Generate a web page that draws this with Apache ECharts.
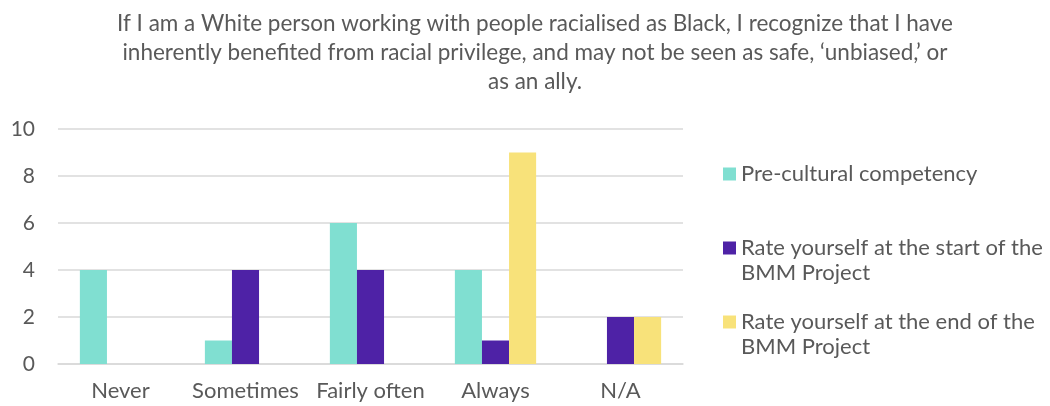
<!DOCTYPE html>
<html>
<head>
<meta charset="utf-8">
<script src="https://cdn.jsdelivr.net/npm/echarts@6/dist/echarts.min.js"></script>
<style>
  html, body { margin: 0; padding: 0; background: #fff; }
  #chart { width: 1050px; height: 406px; }
</style>
</head>
<body>
<div id="chart"></div>
<script>
// Survey responses per answer category
const categories = ['Never', 'Sometimes', 'Fairly often', 'Always', 'N/A'];
const preCultural = [4, 1, 6, 4, 0];
const startOfProject = [0, 4, 4, 1, 2];
const endOfProject = [0, 0, 0, 9, 2];
const yTicks = [0, 2, 4, 6, 8, 10];

const seriesNames = [
  'Pre-cultural competency',
  'Rate yourself at the start of the BMM Project',
  'Rate yourself at the end of the BMM Project'
];
// A blank leading line keeps the swatch level with the first text line
const legendLabels = [
  'Pre-cultural competency',
  ' \nRate yourself at the start of the\nBMM Project',
  ' \nRate yourself at the end of the\nBMM Project'
];
const colors = ['#80DFD1', '#4E22A6', '#F8E27A'];
const textColor = '#595959';
const font = 'Lato, "Open Sans", sans-serif';
const legendLine = 25;

const chart = echarts.init(document.getElementById('chart'));

function legendFor(i, swatchCenterY) {
  const lines = legendLabels[i].split('\n').length;
  return {
    data: [seriesNames[i]],
    left: 723,
    top: swatchCenterY - (lines * legendLine) / 2,
    padding: 0,
    orient: 'vertical',
    icon: 'rect',
    itemWidth: 13,
    itemHeight: 13,
    itemGap: 0,
    selectedMode: false,
    formatter: () => legendLabels[i],
    textStyle: {
      color: textColor,
      fontFamily: font,
      fontSize: 22,
      lineHeight: legendLine
    }
  };
}

chart.setOption({
  animation: false,
  title: {
    text: 'If I am a White person working with people racialised as Black, I recognize that I have\ninherently benefited from racial privilege, and may not be seen as safe, \u2018unbiased,\u2019 or\nas an ally.',
    left: 535,
    top: 9,
    padding: 0,
    textAlign: 'center',
    textStyle: {
      color: textColor,
      fontFamily: font,
      fontSize: 22.5,
      fontWeight: 'normal',
      lineHeight: 29,
      align: 'center'
    }
  },
  legend: [
    legendFor(0, 174),
    legendFor(1, 248),
    legendFor(2, 322)
  ],
  grid: {
    left: 58,
    right: 1050 - 683,
    top: 129,
    bottom: 406 - 364,
    containLabel: false
  },
  xAxis: {
    type: 'category',
    data: categories,
    axisLine: { show: true, lineStyle: { color: '#D9D9D9', width: 1.5 } },
    axisTick: { show: false },
    axisLabel: {
      color: textColor,
      fontFamily: font,
      fontSize: 22,
      margin: 16,
      interval: 0
    }
  },
  yAxis: {
    type: 'value',
    min: yTicks[0],
    max: yTicks[yTicks.length - 1],
    interval: 2,
    axisLine: { show: false },
    axisTick: { show: false },
    axisLabel: {
      color: textColor,
      fontFamily: font,
      fontSize: 21,
      margin: 23
    },
    splitLine: { lineStyle: { color: '#D9D9D9', width: 1.5 } }
  },
  series: [preCultural, startOfProject, endOfProject].map((values, i) => ({
    name: seriesNames[i],
    type: 'bar',
    data: values,
    barGap: '0%',
    barCategoryGap: '35%',
    itemStyle: { color: colors[i] }
  }))
});
</script>
</body>
</html>
